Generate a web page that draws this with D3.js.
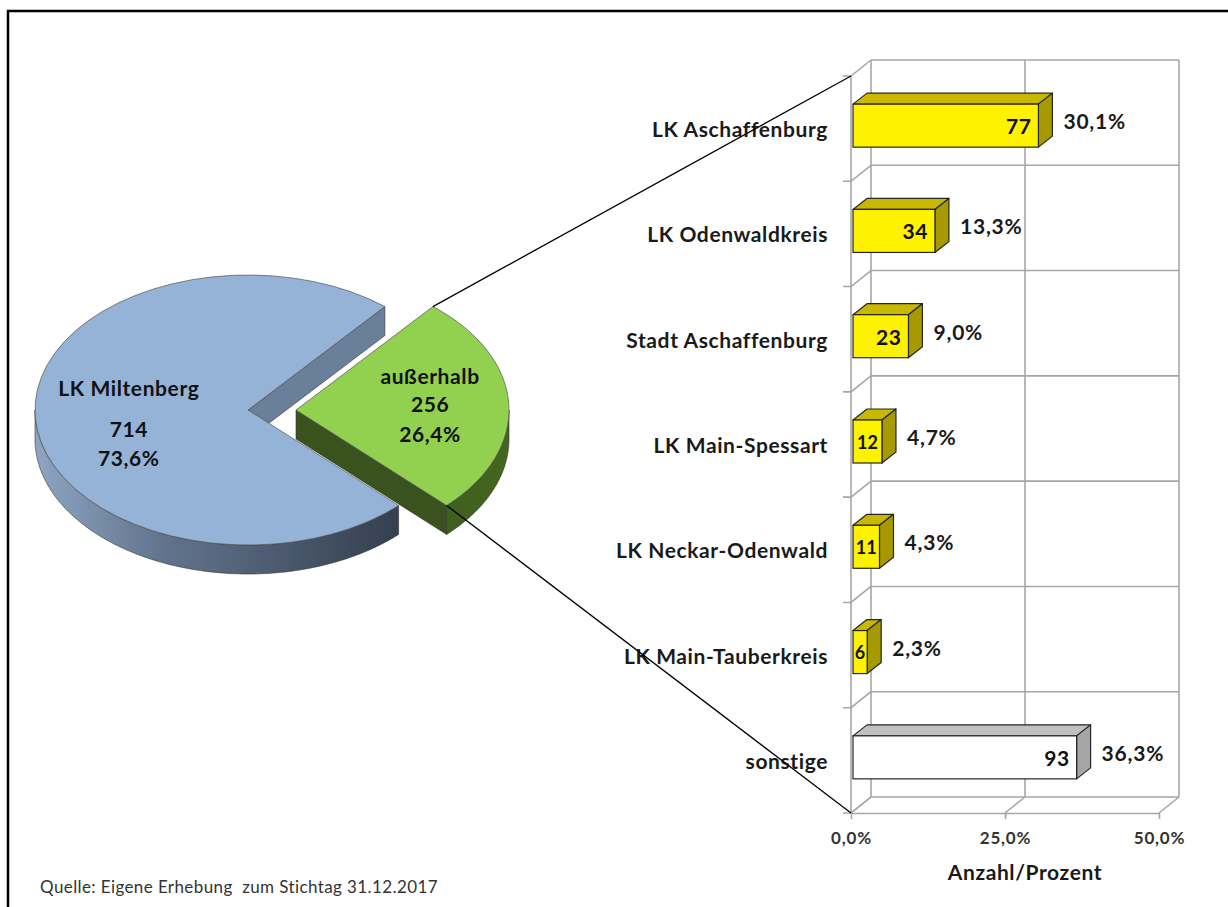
<!DOCTYPE html>
<html>
<head>
<meta charset="utf-8">
<script src="https://cdn.jsdelivr.net/npm/d3@7"></script>
<style>
  body { margin: 0; background: #fff; }
  text { font-family: Lato, "Open Sans", sans-serif; }
</style>
</head>
<body>
<script>
// Pie data
var pieLabels = ["LK Miltenberg", "außerhalb"];
var pieValues = [714, 256];
var piePercents = ["73,6%", "26,4%"];

// Bar data (share of "außerhalb")
var categories = ["LK Aschaffenburg", "LK Odenwaldkreis", "Stadt Aschaffenburg",
    "LK Main-Spessart", "LK Neckar-Odenwald", "LK Main-Tauberkreis", "sonstige"];
var counts = [77, 34, 23, 12, 11, 6, 93];
var percents = [30.1, 13.3, 9.0, 4.7, 4.3, 2.3, 36.3];
var xTicks = [0, 25, 50];
var axisTitle = "Anzahl/Prozent";
var sourceText = "Quelle: Eigene Erhebung  zum Stichtag 31.12.2017";

var W = 1228, H = 907;
var deg = Math.PI / 180;
var de = d3.formatLocale({decimal: ",", thousands: ".", grouping: [3], currency: ["", "€"]});
var fmtPct = de.format(".1f");

// Lato is a bit narrower than the original font, so widen slightly
var bigFont = 21, bigSpacing = 0.6;

var svg = d3.select("body").append("svg")
    .attr("width", W)
    .attr("height", H);

var defs = svg.append("defs");
var gBlue = defs.append("linearGradient").attr("id", "blueSide")
    .attr("gradientUnits", "userSpaceOnUse")
    .attr("x1", 35).attr("y1", 0).attr("x2", 400).attr("y2", 0);
gBlue.append("stop").attr("offset", 0).attr("stop-color", "#8ea5c3");
gBlue.append("stop").attr("offset", 0.35).attr("stop-color", "#62748d");
gBlue.append("stop").attr("offset", 1).attr("stop-color", "#343f4f");
var gGreen = defs.append("linearGradient").attr("id", "greenSide")
    .attr("gradientUnits", "userSpaceOnUse")
    .attr("x1", 300).attr("y1", 0).attr("x2", 510).attr("y2", 0);
gGreen.append("stop").attr("offset", 0).attr("stop-color", "#34501a");
gGreen.append("stop").attr("offset", 1).attr("stop-color", "#44661f");

// frame
svg.append("path")
    .attr("d", "M8," + H + "V11H" + W)
    .attr("fill", "none")
    .attr("stroke", "#000")
    .attr("stroke-width", 2.5);

//
// 3D pie
//
var pieC = {x: 248, y: 410}, rx = 213, ry = 135, depth = 29;
var explode = [{x: 0, y: 0}, {x: 48, y: 0}];
var topColors = ["#95b3d7", "#92d050"];
var sideFills = ["url(#blueSide)", "url(#greenSide)"];
var faceColors = ["#6a7f99", "#3a531e"];

var pie = d3.pie().sort(null).startAngle(135 * deg).endAngle(495 * deg);
var arcs = pie(pieValues);
var arcGen = d3.arc().innerRadius(0).outerRadius(rx);

function rim(a, c, dz) {
    return [c.x + rx * Math.sin(a), c.y - ry * Math.cos(a) + (dz || 0)];
}

var pieG = svg.append("g");
arcs.forEach(function(d, i) {
    var c = {x: pieC.x + explode[i].x, y: pieC.y + explode[i].y};
    var g = pieG.append("g");

    // radial faces
    [d.startAngle, d.endAngle].forEach(function(a, k) {
        var visible = k === 0 ? Math.sin(a) < 0 : Math.sin(a) > 0;
        if (!visible) return;
        var p = [[c.x, c.y], rim(a, c), rim(a, c, depth), [c.x, c.y + depth]];
        g.append("path")
            .attr("d", "M" + p.join("L") + "Z")
            .attr("fill", faceColors[i])
            .attr("stroke", "#333")
            .attr("stroke-width", 0.6);
    });

    // outer side (front half only)
    [[90, 270], [450, 630]].forEach(function(win) {
        var a0 = Math.max(d.startAngle, win[0] * deg),
            a1 = Math.min(d.endAngle, win[1] * deg);
        if (a1 <= a0) return;
        var steps = d3.range(a0, a1, 0.01).concat([a1]);
        var top = steps.map(function(a) { return rim(a, c); });
        var bot = steps.slice().reverse().map(function(a) { return rim(a, c, depth); });
        g.append("path")
            .attr("d", "M" + top.concat(bot).join("L") + "Z")
            .attr("fill", sideFills[i])
            .attr("stroke", "#333")
            .attr("stroke-width", 0.6);
    });

    // top surface
    g.append("path")
        .attr("transform", "translate(" + c.x + "," + c.y + ") scale(1," + (ry / rx) + ")")
        .attr("d", arcGen(d))
        .attr("fill", topColors[i])
        .attr("stroke", "#555")
        .attr("stroke-width", 0.7)
        .attr("vector-effect", "non-scaling-stroke");
});

// pie labels
var pieLabelPos = [{f: 0.56, y0: 414, dy: [-27, 14, 43]}, {f: 0.63, y0: 404, dy: [-29, -1, 29]}];
arcs.forEach(function(d, i) {
    var c = {x: pieC.x + explode[i].x, y: pieC.y + explode[i].y};
    var mid = (d.startAngle + d.endAngle) / 2;
    var x = c.x + rx * pieLabelPos[i].f * Math.sin(mid);
    var lines = [pieLabels[i], pieValues[i], piePercents[i]];
    lines.forEach(function(t, k) {
        pieG.append("text")
            .attr("x", x)
            .attr("y", pieLabelPos[i].y0 + pieLabelPos[i].dy[k])
            .attr("text-anchor", "middle")
            .attr("dominant-baseline", "central")
            .attr("font-size", bigFont)
            .attr("letter-spacing", bigSpacing)
            .attr("font-weight", "bold")
            .attr("fill", "#111")
            .text(t);
    });
});

//
// 3D bar chart
//
var wall = {dx: -20, dy: 16};          // back wall -> front plane
var barDepth = {dx: 14, dy: -11};
var xScale = d3.scaleLinear().domain([0, 50]).range([871, 1179]);
var yBand = d3.scaleBand().domain(categories).range([60, 797]);
var bounds = categories.map(function(c) { return yBand(c); }).concat([yBand.range()[1]]);
var gridColor = "#a6a6a6";

var chart = svg.append("g");

// back wall grid
chart.selectAll(".hgrid").data(bounds).enter().append("line")
    .attr("x1", xScale(0)).attr("x2", xScale(50))
    .attr("y1", function(d) { return d; }).attr("y2", function(d) { return d; })
    .attr("stroke", gridColor).attr("stroke-width", 1.6);
chart.selectAll(".vgrid").data(xTicks).enter().append("line")
    .attr("x1", function(d) { return xScale(d); }).attr("x2", function(d) { return xScale(d); })
    .attr("y1", yBand.range()[0]).attr("y2", yBand.range()[1])
    .attr("stroke", gridColor).attr("stroke-width", 1.6);

// left wall
var fx0 = xScale(0) + wall.dx;
chart.append("line")
    .attr("x1", fx0).attr("x2", fx0)
    .attr("y1", yBand.range()[0] + wall.dy).attr("y2", yBand.range()[1] + wall.dy)
    .attr("stroke", gridColor).attr("stroke-width", 1.6);
chart.selectAll(".lwall").data(bounds).enter().append("path")
    .attr("d", function(d) {
        return "M" + (fx0 - 8) + "," + (d + wall.dy) + "H" + fx0 + "L" + xScale(0) + "," + d;
    })
    .attr("fill", "none").attr("stroke", gridColor).attr("stroke-width", 1.6);

// floor
var floorY = yBand.range()[1];
chart.selectAll(".floor").data(xTicks).enter().append("line")
    .attr("x1", function(d) { return xScale(d) + wall.dx; }).attr("y1", floorY + wall.dy)
    .attr("x2", function(d) { return xScale(d); }).attr("y2", floorY)
    .attr("stroke", gridColor).attr("stroke-width", 1.6);

var xAxis = d3.axisBottom(xScale)
    .tickValues(xTicks)
    .tickSize(6)
    .tickSizeOuter(0)
    .tickPadding(13)
    .tickFormat(function(d) { return fmtPct(d) + "%"; });
var ax = chart.append("g")
    .attr("transform", "translate(" + wall.dx + "," + (floorY + wall.dy) + ")")
    .call(xAxis);
ax.select(".domain").attr("stroke", gridColor).attr("stroke-width", 1.6);
ax.selectAll(".tick line").attr("stroke", gridColor).attr("stroke-width", 1.6);
ax.selectAll(".tick text")
    .attr("font-family", "Lato, 'Open Sans', sans-serif")
    .attr("font-size", 17)
    .attr("letter-spacing", 0.8)
    .attr("font-weight", "bold")
    .attr("fill", "#333");

chart.append("text")
    .attr("x", xScale(25))
    .attr("y", 880)
    .attr("text-anchor", "middle")
    .attr("font-size", bigFont)
    .attr("letter-spacing", bigSpacing)
    .attr("font-weight", "bold")
    .attr("fill", "#1a1a1a")
    .text(axisTitle);

// bars
var barH = 43, barX0 = fx0 + 2;
var bars = chart.selectAll(".bar").data(categories).enter().append("g").attr("class", "bar");
bars.each(function(cat, i) {
    var g = d3.select(this);
    var yc = yBand(cat) + yBand.bandwidth() / 2 + 13;
    var x0 = barX0, x1 = barX0 + xScale(percents[i]) - xScale(0);
    var y0 = yc - barH / 2, y1 = yc + barH / 2;
    var dx = barDepth.dx, dy = barDepth.dy;
    var other = cat === "sonstige";
    var cFront = other ? "#ffffff" : "#fff200",
        cTop = other ? "#c0c0c0" : "#c8b900",
        cSide = other ? "#a6a6a6" : "#a69a00";
    var stroke = "#262626";

    g.append("path")
        .attr("d", "M" + [[x0, y0], [x1, y0], [x1 + dx, y0 + dy], [x0 + dx, y0 + dy]].join("L") + "Z")
        .attr("fill", cTop).attr("stroke", stroke).attr("stroke-width", 1.2).attr("stroke-linejoin", "round");
    g.append("path")
        .attr("d", "M" + [[x1, y0], [x1 + dx, y0 + dy], [x1 + dx, y1 + dy], [x1, y1]].join("L") + "Z")
        .attr("fill", cSide).attr("stroke", stroke).attr("stroke-width", 1.2).attr("stroke-linejoin", "round");
    g.append("rect")
        .attr("x", x0).attr("y", y0)
        .attr("width", x1 - x0).attr("height", y1 - y0)
        .attr("fill", cFront).attr("stroke", stroke).attr("stroke-width", 1.2);

    var wide = x1 - x0 > 40;
    g.append("text")
        .attr("x", wide ? x1 - 7 : (x0 + x1) / 2)
        .attr("y", yc)
        .attr("text-anchor", wide ? "end" : "middle")
        .attr("dominant-baseline", "central")
        .attr("font-size", wide ? 21 : 18)
        .attr("letter-spacing", wide ? 0.5 : 0)
        .attr("font-weight", "bold")
        .attr("fill", "#111")
        .text(counts[i]);

    g.append("text")
        .attr("x", x1 + dx + 11)
        .attr("y", yc - 5)
        .attr("dominant-baseline", "central")
        .attr("font-size", bigFont)
        .attr("letter-spacing", 0.8)
        .attr("font-weight", "bold")
        .attr("fill", "#1a1a1a")
        .text(fmtPct(percents[i]) + "%");

    g.append("text")
        .attr("x", 828)
        .attr("y", yc + 3)
        .attr("text-anchor", "end")
        .attr("dominant-baseline", "central")
        .attr("font-size", bigFont)
        .attr("letter-spacing", bigSpacing)
        .attr("font-weight", "bold")
        .attr("fill", "#1a1a1a")
        .text(cat);
});

// connector lines from the exploded slice to the bar chart
var g1 = {x: pieC.x + explode[1].x, y: pieC.y + explode[1].y};
var pTop = rim(arcs[1].startAngle, g1), pBot = rim(arcs[1].endAngle, g1);
svg.append("line")
    .attr("x1", pTop[0]).attr("y1", pTop[1])
    .attr("x2", fx0).attr("y2", yBand.range()[0] + wall.dy)
    .attr("stroke", "#000").attr("stroke-width", 1.3);
svg.append("line")
    .attr("x1", pBot[0]).attr("y1", pBot[1])
    .attr("x2", fx0).attr("y2", yBand.range()[1] + wall.dy)
    .attr("stroke", "#000").attr("stroke-width", 1.3);

// source (keeps the double space)
svg.append("text")
    .attr("x", 40)
    .attr("y", 893)
    .attr("font-size", 17)
    .attr("letter-spacing", 0.4)
    .attr("fill", "#333")
    .style("white-space", "pre")
    .text(sourceText);
</script>
</body>
</html>
